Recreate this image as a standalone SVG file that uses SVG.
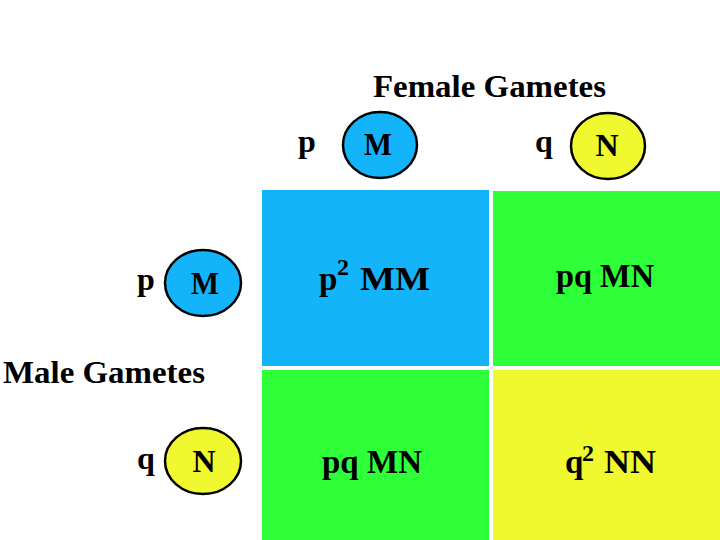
<svg xmlns="http://www.w3.org/2000/svg" width="720" height="540" viewBox="0 0 720 540">
<style>
text{font-family:"Liberation Serif","Times New Roman",serif;font-weight:bold;fill:#000}
.title{font-size:32px}
.lbl{font-size:32px}
.cell{font-size:33px}
.sup{font-size:24px}
.gm{stroke:#000;stroke-width:2.5}
.blue{fill:#14B4FA}
.green{fill:#2EFF38}
.yellow{fill:#F0F830}
</style>
<rect width="720" height="540" fill="#fff"/>
<g id="grid">
<rect id="cellMM" class="blue" x="262" y="190" width="227" height="176"/>
<rect id="cellMN1" class="green" x="493" y="191" width="227" height="175"/>
<rect id="cellMN2" class="green" x="262" y="370" width="227" height="170"/>
<rect id="cellNN" class="yellow" x="493" y="370" width="227" height="170"/>
<text class="cell" x="319" y="290">p</text>
<text class="sup" x="337" y="275">2</text>
<text class="cell" x="360" y="290" textLength="70" lengthAdjust="spacingAndGlyphs">MM</text>
<text class="cell" x="556" y="287" textLength="98" lengthAdjust="spacingAndGlyphs">pq MN</text>
<text class="cell" x="322" y="473" textLength="100" lengthAdjust="spacingAndGlyphs">pq MN</text>
<text class="cell" x="565" y="473">q</text>
<text class="sup" x="582" y="461">2</text>
<text class="cell" x="604" y="473" textLength="52" lengthAdjust="spacingAndGlyphs">NN</text>
</g>
<g id="female">
<text class="title" x="373" y="97" textLength="233" lengthAdjust="spacingAndGlyphs">Female Gametes</text>
<g id="femaleM">
<text class="lbl" x="298" y="152">p</text>
<ellipse class="gm blue" cx="380" cy="145" rx="37" ry="33"/>
<text class="lbl" x="378" y="155" text-anchor="middle" textLength="28" lengthAdjust="spacingAndGlyphs">M</text>
</g>
<g id="femaleN">
<text class="lbl" x="535" y="152">q</text>
<ellipse class="gm yellow" cx="608" cy="146" rx="37" ry="33"/>
<text class="lbl" x="607" y="156" text-anchor="middle">N</text>
</g>
</g>
<g id="male">
<text class="title" x="3" y="383" textLength="202" lengthAdjust="spacingAndGlyphs">Male Gametes</text>
<g id="maleM">
<text class="lbl" x="137" y="290">p</text>
<ellipse class="gm blue" cx="203" cy="283" rx="38" ry="33"/>
<text class="lbl" x="205" y="294" text-anchor="middle" textLength="28" lengthAdjust="spacingAndGlyphs">M</text>
</g>
<g id="maleN">
<text class="lbl" x="137" y="469">q</text>
<ellipse class="gm yellow" cx="203" cy="461" rx="38" ry="33"/>
<text class="lbl" x="204" y="472" text-anchor="middle">N</text>
</g>
</g>
<g id="connectors"></g>
</svg>
